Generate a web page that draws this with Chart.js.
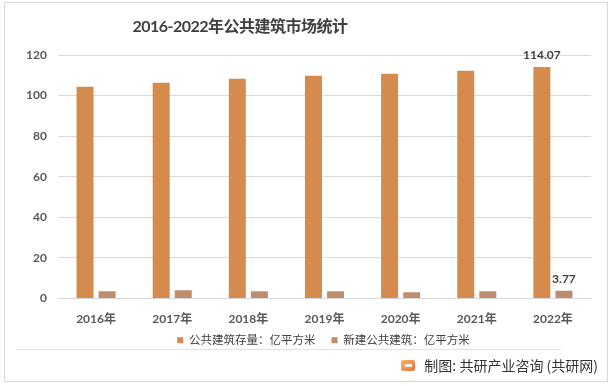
<!DOCTYPE html>
<html>
<head>
<meta charset="utf-8">
<script src="https://cdn.jsdelivr.net/npm/chart.js@4/dist/chart.umd.min.js"></script>
<style>
  html, body { margin: 0; padding: 0; background: #ffffff; }
  #wrap { position: relative; width: 615px; height: 386px; overflow: hidden; background: #fff; }
  #frame { position: absolute; left: 4px; top: 2px; width: 604px; height: 380px; border: 1px solid #d9d9d9; box-sizing: border-box; }
  #sep { position: absolute; left: 16px; top: 349px; width: 545px; height: 1px; background: #e3e3e3; }
  #title { position: absolute; left: 0; top: 15px; width: 480px; text-align: center; font: bold 16px Lato, "Noto Sans CJK SC", sans-serif; letter-spacing: -0.5px; color: #404040; line-height: 22px; }
  #footer { position: absolute; right: 17px; top: 355px; font: 14px "Noto Sans CJK SC", sans-serif; color: #333; line-height: 20px; display: flex; align-items: center; }
  #logo { width: 14px; height: 11px; margin-right: 9px; border-radius: 2px; background: linear-gradient(135deg, #fbb36a, #e9703a); position: relative; }
  #logo::after { content: ""; position: absolute; left: 4px; top: 4px; width: 7px; height: 3px; background: #fff; }
  canvas { position: absolute; left: 0; top: 0; }
</style>
</head>
<body>
<div id="wrap">
  <div id="frame"></div>
  <div id="sep"></div>
  <canvas id="c" width="615" height="386"></canvas>
  <div id="title">2016-2022年公共建筑市场统计</div>
  <div id="footer"><span id="logo"></span><span>制图: 共研产业咨询 (共研网)</span></div>
</div>
<script>
const categories = ['2016年', '2017年', '2018年', '2019年', '2020年', '2021年', '2022年'];
const stockValues = [104.3, 106.3, 108.3, 109.8, 110.8, 112.2, 114.07];
const newValues = [3.6, 4.1, 3.6, 3.6, 3.1, 3.6, 3.77];
const seriesNames = ['公共建筑存量：亿平方米', '新建公共建筑：亿平方米'];
const yTicks = [0, 20, 40, 60, 80, 100, 120];

const FONT = 'Lato, "Noto Sans CJK SC", sans-serif';

const lastLabels = {
  id: 'lastLabels',
  afterDatasetsDraw(chart) {
    const ctx = chart.ctx;
    ctx.save();
    ctx.font = 'bold 12px ' + FONT;
    ctx.fillStyle = '#404040';
    ctx.textAlign = 'center';
    ctx.textBaseline = 'bottom';
    chart.data.datasets.forEach((ds, di) => {
      const meta = chart.getDatasetMeta(di);
      const i = ds.data.length - 1;
      const bar = meta.data[i];
      ctx.fillText(ds.data[i].toFixed(2), bar.x, bar.y - 6);
    });
    ctx.restore();
  }
};

const moveLegend = {
  id: 'moveLegend',
  afterLayout(chart) {
    const lg = chart.legend;
    if (!lg) return;
    const dy = -8, dx = 28;
    lg.top += dy; lg.bottom += dy;
    lg.left += dx; lg.right += dx;
    if (lg.legendHitBoxes) {
      lg.legendHitBoxes.forEach(h => { h.top += dy; h.left += dx; });
    }
  }
};

new Chart(document.getElementById('c'), {
  type: 'bar',
  data: {
    labels: categories,
    datasets: [
      { label: seriesNames[0], data: stockValues, backgroundColor: '#d48b4d', categoryPercentage: 0.58, barPercentage: 0.77 },
      { label: seriesNames[1], data: newValues, backgroundColor: '#bc8e6e', categoryPercentage: 0.58, barPercentage: 0.77 }
    ]
  },
  options: {
    responsive: false,
    animation: false,
    layout: { padding: { top: 55, left: 0, right: 24, bottom: 22 } },
    plugins: {
      title: { display: false },
      tooltip: { enabled: false },
      legend: {
        position: 'bottom',
        labels: {
          boxWidth: 6, boxHeight: 6, padding: 16,
          color: '#404040',
          font: { size: 11.5, family: FONT }
        }
      }
    },
    scales: {
      x: {
        grid: { display: false },
        border: { color: '#d9d9d9' },
        ticks: { color: '#595959', font: { size: 12, weight: 'bold', family: FONT }, padding: 5, maxRotation: 0 },
        afterFit(scale) { scale.height = 28; }
      },
      y: {
        min: 0, max: 120,
        afterBuildTicks(scale) { scale.ticks = yTicks.map(v => ({ value: v })); },
        grid: { color: '#d9d9d9', drawTicks: false },
        border: { display: false },
        ticks: { color: '#595959', font: { size: 12, weight: 'bold', family: FONT }, padding: 11 },
        afterFit(scale) { scale.width = 58; }
      }
    }
  },
  plugins: [lastLabels, moveLegend]
});
</script>
</body>
</html>
